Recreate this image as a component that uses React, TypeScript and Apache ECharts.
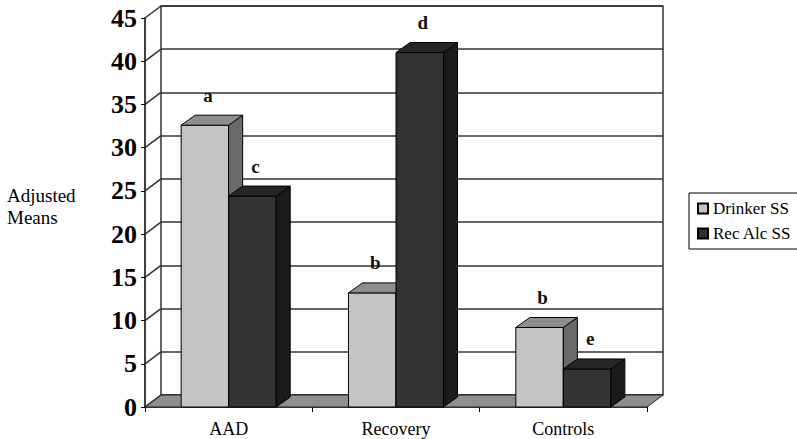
import React, { useEffect, useRef } from "react";
import * as echarts from "echarts";

const categories = ["AAD", "Recovery", "Controls"];
const drinkerSS = [32.6, 13.2, 9.2];
const recAlcSS = [24.4, 41.0, 4.4];
const drinkerLetters = ["a", "b", "b"];
const recLetters = ["c", "d", "e"];
const yTicks = [0, 5, 10, 15, 20, 25, 30, 35, 40, 45];

const SERIF = "Liberation Serif";
const WALL_DX = 16;
const WALL_DY = -12;
const BAR_DX = 14;
const BAR_DY = -10;

function makeBarRender(left: boolean, front: string, top: string, side: string, letters: string[]) {
  return (params: any, api: any) => {
    const idx = api.value(0);
    const val = api.value(1);
    const c = api.coord([idx, val]);
    const b = api.coord([idx, 0]);
    const band = api.size([1, 0])[0];
    const w = band * 0.284;
    const x0 = left ? c[0] - w : c[0];
    const x1 = x0 + w;
    const yt = c[1];
    const yb = b[1];
    const stroke = { stroke: "#000", lineWidth: 1 };
    return {
      type: "group",
      children: [
        {
          type: "rect",
          shape: { x: x0, y: yt, width: w, height: yb - yt },
          style: { fill: front, ...stroke },
        },
        {
          type: "polygon",
          shape: { points: [[x1, yb], [x1 + BAR_DX, yb + BAR_DY], [x1 + BAR_DX, yt + BAR_DY], [x1, yt]] },
          style: { fill: side, ...stroke },
        },
        {
          type: "polygon",
          shape: { points: [[x0, yt], [x0 + BAR_DX, yt + BAR_DY], [x1 + BAR_DX, yt + BAR_DY], [x1, yt]] },
          style: { fill: top, ...stroke },
        },
        {
          type: "text",
          style: {
            text: letters[idx],
            x: (x0 + x1) / 2 + 3,
            y: yt - 30,
            align: "center",
            verticalAlign: "middle",
            fontFamily: SERIF,
            fontSize: 19,
            fontWeight: "bold",
            fill: "#111",
          },
        },
      ],
    };
  };
}

export default function App() {
  const ref = useRef<HTMLDivElement>(null);
  useEffect(() => {
    if (!ref.current) return;
    const chart = echarts.init(ref.current, null, { renderer: "svg" });
    const option: any = {
      animation: false,
      backgroundColor: "#fff",
      textStyle: { fontFamily: SERIF },
      grid: [
        { left: 145, right: 150, top: 18, bottom: 32, show: false, outerBoundsMode: "none" },
        {
          left: 161,
          right: 134,
          top: 6,
          bottom: 44,
          show: true,
          borderColor: "#333",
          borderWidth: 1.5,
          backgroundColor: "transparent",
          outerBoundsMode: "none",
        },
      ],
      xAxis: [
        {
          gridIndex: 0,
          type: "category",
          data: categories,
          axisLine: { show: true, lineStyle: { color: "#000", width: 1.5 } },
          axisTick: { show: true, length: 5, alignWithLabel: false, lineStyle: { color: "#000" } },
          axisLabel: { fontFamily: SERIF, fontSize: 18, color: "#000", margin: 13 },
          splitLine: { show: false },
        },
        { gridIndex: 1, type: "category", data: categories, show: false },
      ],
      yAxis: [
        {
          gridIndex: 0,
          type: "value",
          min: 0,
          max: 45,
          interval: 5,
          axisLine: { show: true, lineStyle: { color: "#000", width: 1.5 } },
          axisTick: { show: true, length: 4, lineStyle: { color: "#000" } },
          axisLabel: { fontFamily: SERIF, fontSize: 26, fontWeight: "bold", color: "#000", margin: 8 },
          splitLine: { show: false },
        },
        {
          gridIndex: 1,
          type: "value",
          min: 0,
          max: 45,
          interval: 5,
          axisLine: { show: false },
          axisTick: { show: false },
          axisLabel: { show: false },
          splitLine: { show: true, lineStyle: { color: "#333", width: 1.5 } },
        },
      ],
      legend: {
        data: ["Drinker SS", "Rec Alc SS"],
        orient: "vertical",
        left: 689,
        top: 193,
        padding: [7, 8, 7, 8],
        itemGap: 8,
        itemWidth: 10,
        itemHeight: 10,
        icon: "rect",
        borderColor: "#000",
        borderWidth: 1,
        textStyle: { fontFamily: SERIF, fontSize: 17, color: "#000", lineHeight: 17 },
      },
      graphic: [
        {
          type: "text",
          left: 7,
          top: 184,
          style: {
            text: "Adjusted\nMeans",
            fontFamily: SERIF,
            fontSize: 19,
            lineHeight: 22,
            fill: "#000",
          },
        },
      ],
      series: [
        {
          name: "floor",
          type: "custom",
          xAxisIndex: 0,
          yAxisIndex: 0,
          clip: false,
          silent: true,
          data: [[0, 0]],
          renderItem: (params: any, api: any) => {
            const cs = params.coordSys;
            const y0 = api.coord([0, 0])[1];
            const xa = cs.x;
            const xb = cs.x + cs.width;
            return {
              type: "polygon",
              shape: {
                points: [
                  [xa, y0],
                  [xa + WALL_DX, y0 + WALL_DY],
                  [xb + WALL_DX, y0 + WALL_DY],
                  [xb, y0],
                ],
              },
              style: { fill: "#8f8f8f", stroke: "#222", lineWidth: 1 },
            };
          },
        },
        {
          name: "wall",
          type: "custom",
          xAxisIndex: 0,
          yAxisIndex: 0,
          clip: false,
          silent: true,
          data: yTicks.map((v) => [0, v]),
          renderItem: (params: any, api: any) => {
            const cs = params.coordSys;
            const y = api.coord([0, api.value(1)])[1];
            return {
              type: "line",
              shape: { x1: cs.x, y1: y, x2: cs.x + WALL_DX, y2: y + WALL_DY },
              style: { stroke: "#333", lineWidth: 1.5 },
            };
          },
        },
        {
          name: "Drinker SS",
          type: "custom",
          xAxisIndex: 0,
          yAxisIndex: 0,
          clip: false,
          itemStyle: { color: "#c4c4c4", borderColor: "#000", borderWidth: 1 },
          encode: { x: 0, y: 1 },
          data: drinkerSS.map((v, i) => [i, v]),
          renderItem: makeBarRender(true, "#c4c4c4", "#8e8e8e", "#6a6a6a", drinkerLetters),
        },
        {
          name: "Rec Alc SS",
          type: "custom",
          xAxisIndex: 0,
          yAxisIndex: 0,
          clip: false,
          itemStyle: { color: "#2f2f2f", borderColor: "#000", borderWidth: 1 },
          encode: { x: 0, y: 1 },
          data: recAlcSS.map((v, i) => [i, v]),
          renderItem: makeBarRender(false, "#333333", "#262626", "#1a1a1a", recLetters),
        },
      ],
    };
    chart.setOption(option);
    return () => chart.dispose();
  }, []);
  return (
    <div
      ref={ref}
      style={{ position: "fixed", left: 0, top: 0, width: 797, height: 439 }}
    />
  );
}
